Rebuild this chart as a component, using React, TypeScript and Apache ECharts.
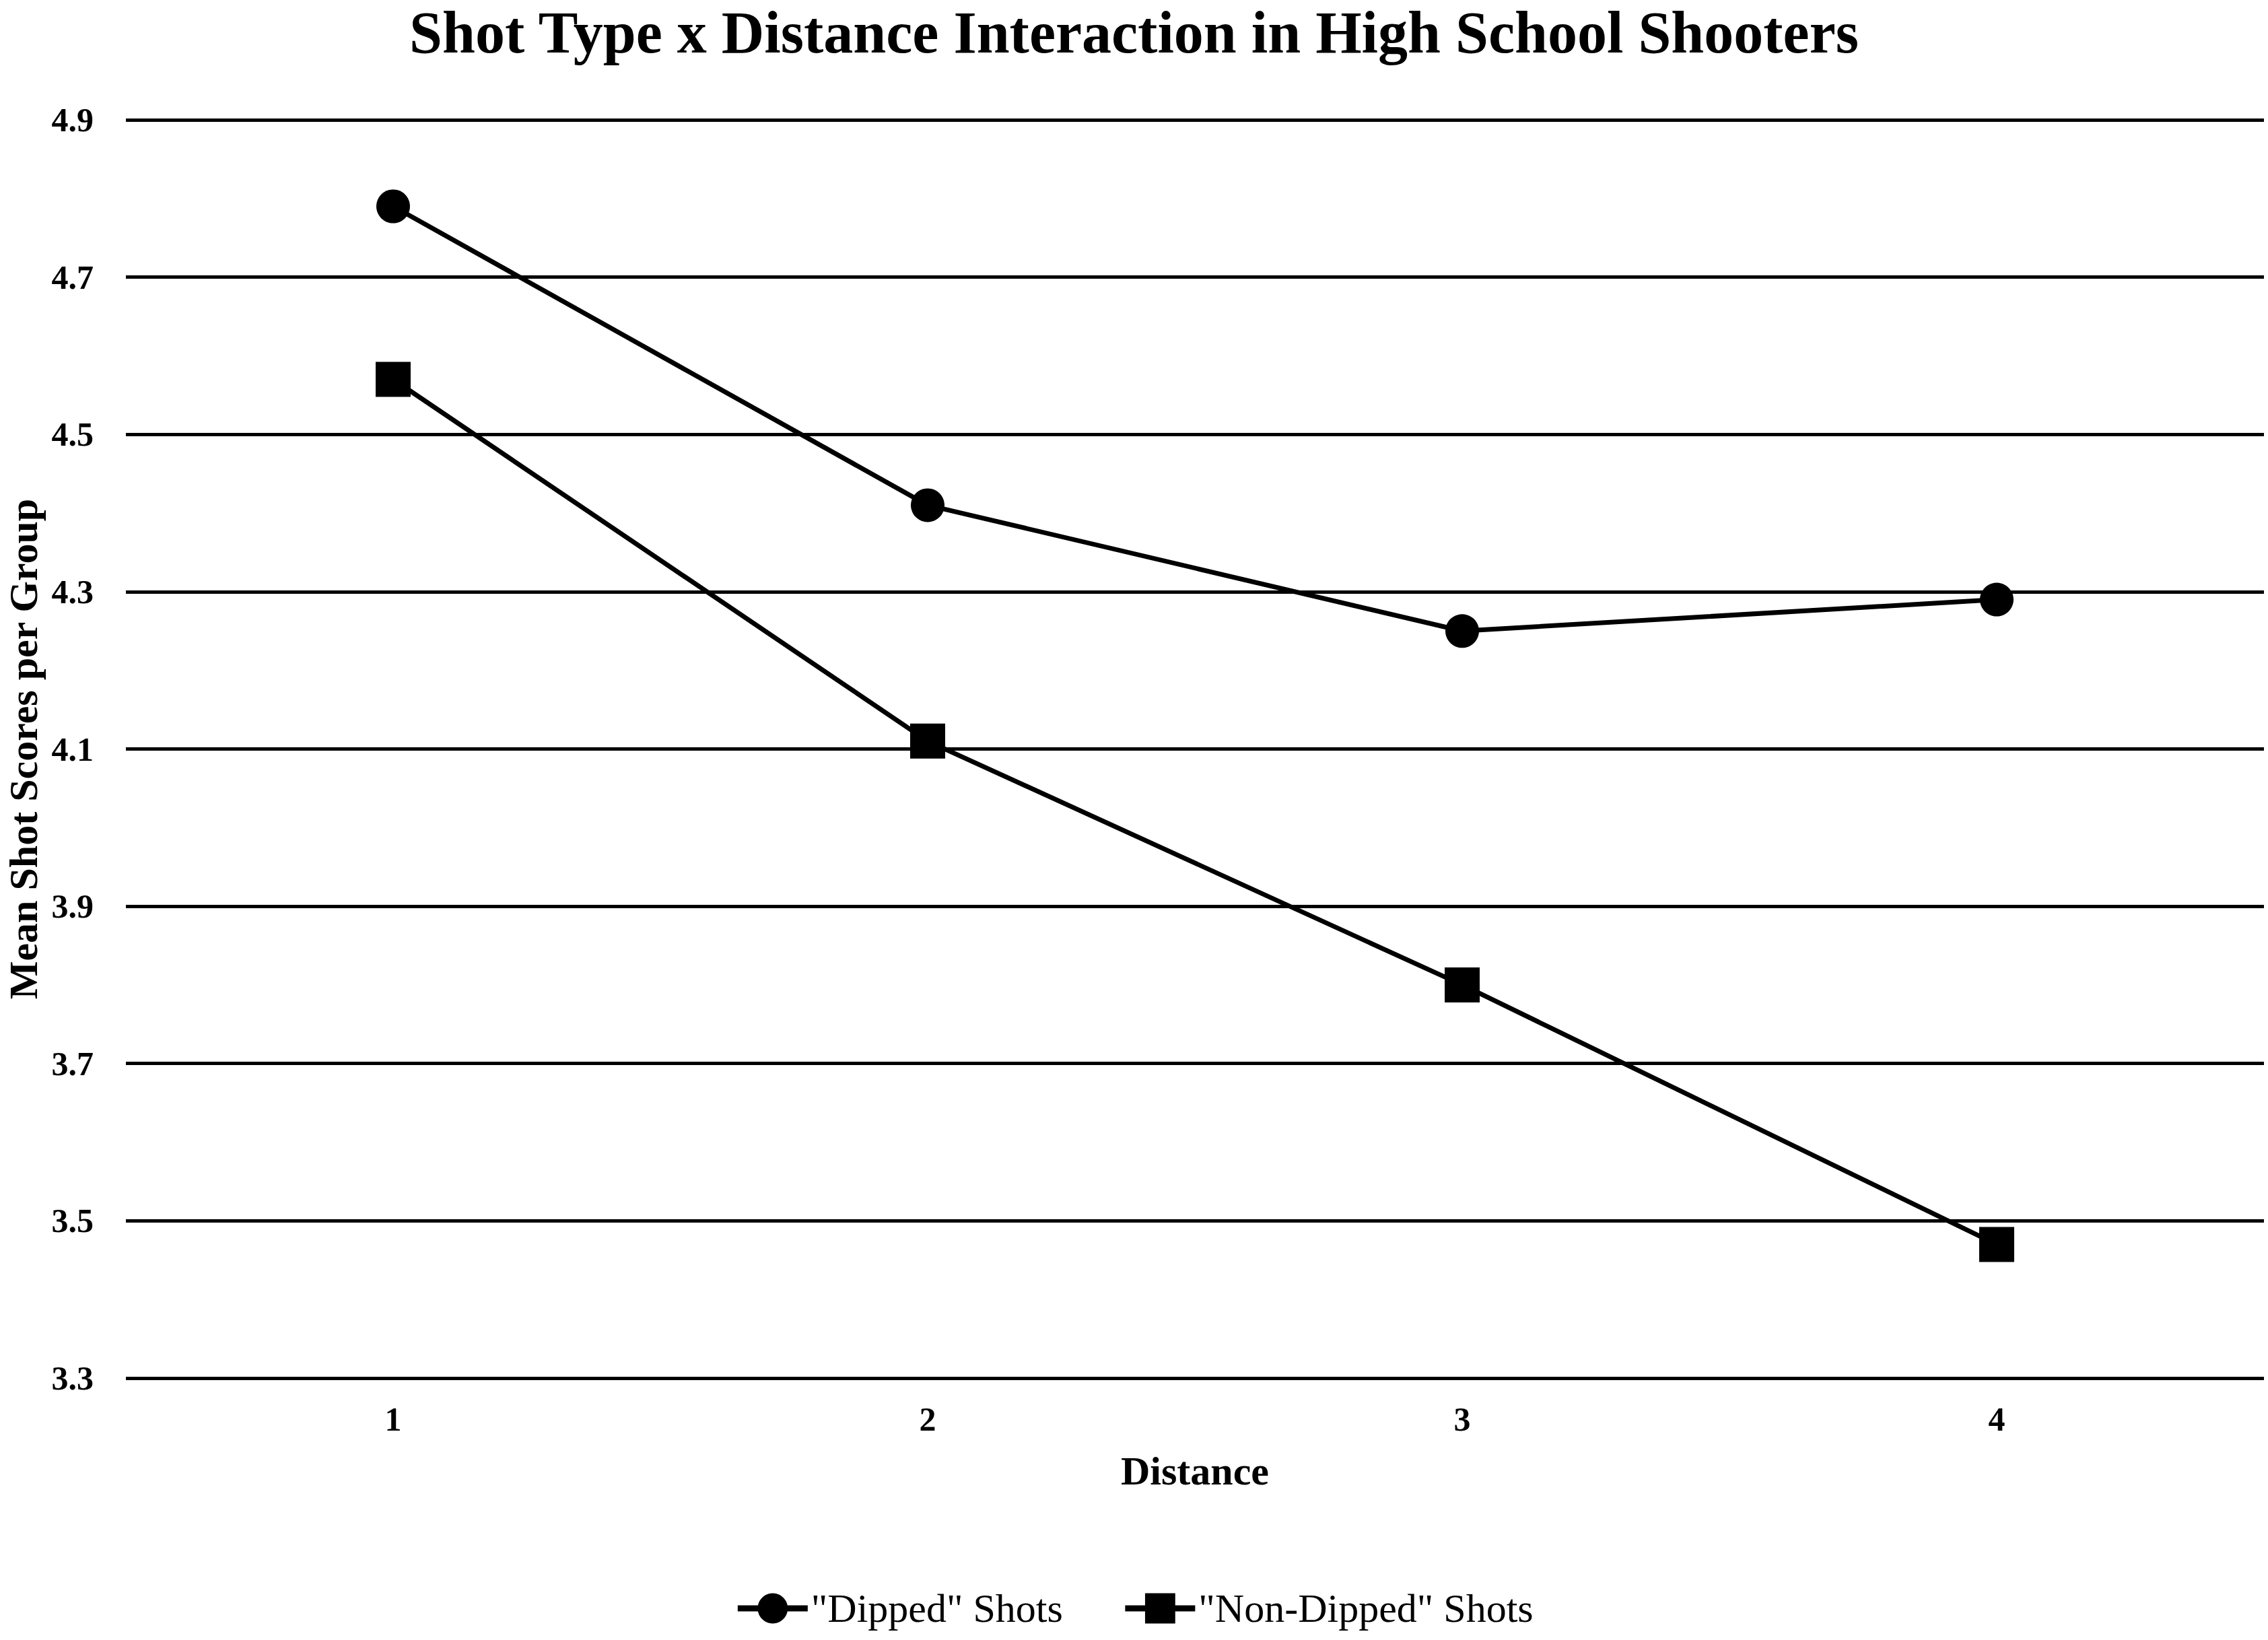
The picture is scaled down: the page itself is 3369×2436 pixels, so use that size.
import React, { useEffect, useRef } from "react";
import * as echarts from "echarts";

const distances = ["1", "2", "3", "4"];
const dippedScores = [4.79, 4.41, 4.25, 4.29];
const nonDippedScores = [4.57, 4.11, 3.8, 3.47];
const yMin = 3.3;
const yMax = 4.9;
const yStep = 0.2;

const FONT = "'Liberation Serif', 'Times New Roman', serif";

export default function App() {
  const ref = useRef<HTMLDivElement>(null);
  useEffect(() => {
    document.body.style.margin = "0";
    const chart = echarts.init(ref.current!, null, { renderer: "svg" });
    chart.setOption({
      animation: false,
      backgroundColor: "#ffffff",
      title: {
        text: "Shot Type x Distance Interaction in High School Shooters",
        left: "center",
        top: 4,
        padding: 0,
        textStyle: { fontFamily: FONT, fontWeight: "bold", fontSize: 88, color: "#000" },
      },
      legend: {
        bottom: 12,
        left: "center",
        itemWidth: 104,
        itemHeight: 56,
        itemGap: 88,
        lineStyle: { width: 9, color: "#000" },
        textStyle: { fontFamily: FONT, fontSize: 60, color: "#000" },
        data: ['"Dipped" Shots', '"Non-Dipped" Shots'],
      },
      grid: { left: 187, right: 6, top: 178, bottom: 389, outerBoundsMode: "none", containLabel: false },
      xAxis: {
        type: "category",
        data: distances,
        boundaryGap: true,
        name: "Distance",
        nameLocation: "middle",
        nameGap: 108,
        nameTextStyle: { fontFamily: FONT, fontWeight: "bold", fontSize: 60, color: "#000" },
        axisLine: { show: false },
        axisTick: { show: false },
        axisLabel: { fontFamily: FONT, fontWeight: "bold", fontSize: 50, color: "#000", margin: 36 },
      },
      yAxis: {
        type: "value",
        min: yMin,
        max: yMax,
        interval: yStep,
        name: "Mean Shot Scores per Group",
        nameLocation: "middle",
        nameRotate: 90,
        nameGap: 122,
        nameTextStyle: { fontFamily: FONT, fontWeight: "bold", fontSize: 60, color: "#000" },
        axisLine: { show: false },
        axisTick: { show: false },
        axisLabel: {
          fontFamily: FONT,
          fontWeight: "bold",
          fontSize: 50,
          color: "#000",
          margin: 48,
          formatter: (v: number) => v.toFixed(1),
        },
        splitLine: { lineStyle: { color: "#000", width: 5 } },
      },
      series: [
        {
          name: '"Dipped" Shots',
          type: "line",
          data: dippedScores,
          symbol: "circle",
          symbolSize: 50,
          lineStyle: { color: "#000", width: 7 },
          itemStyle: { color: "#000" },
        },
        {
          name: '"Non-Dipped" Shots',
          type: "line",
          data: nonDippedScores,
          symbol: "rect",
          symbolSize: 52,
          lineStyle: { color: "#000", width: 7 },
          itemStyle: { color: "#000" },
        },
      ],
    });
    return () => chart.dispose();
  }, []);
  return (
    <div
      ref={ref}
      style={{ position: "absolute", left: 0, top: 0, width: 3369, height: 2436 }}
    />
  );
}
